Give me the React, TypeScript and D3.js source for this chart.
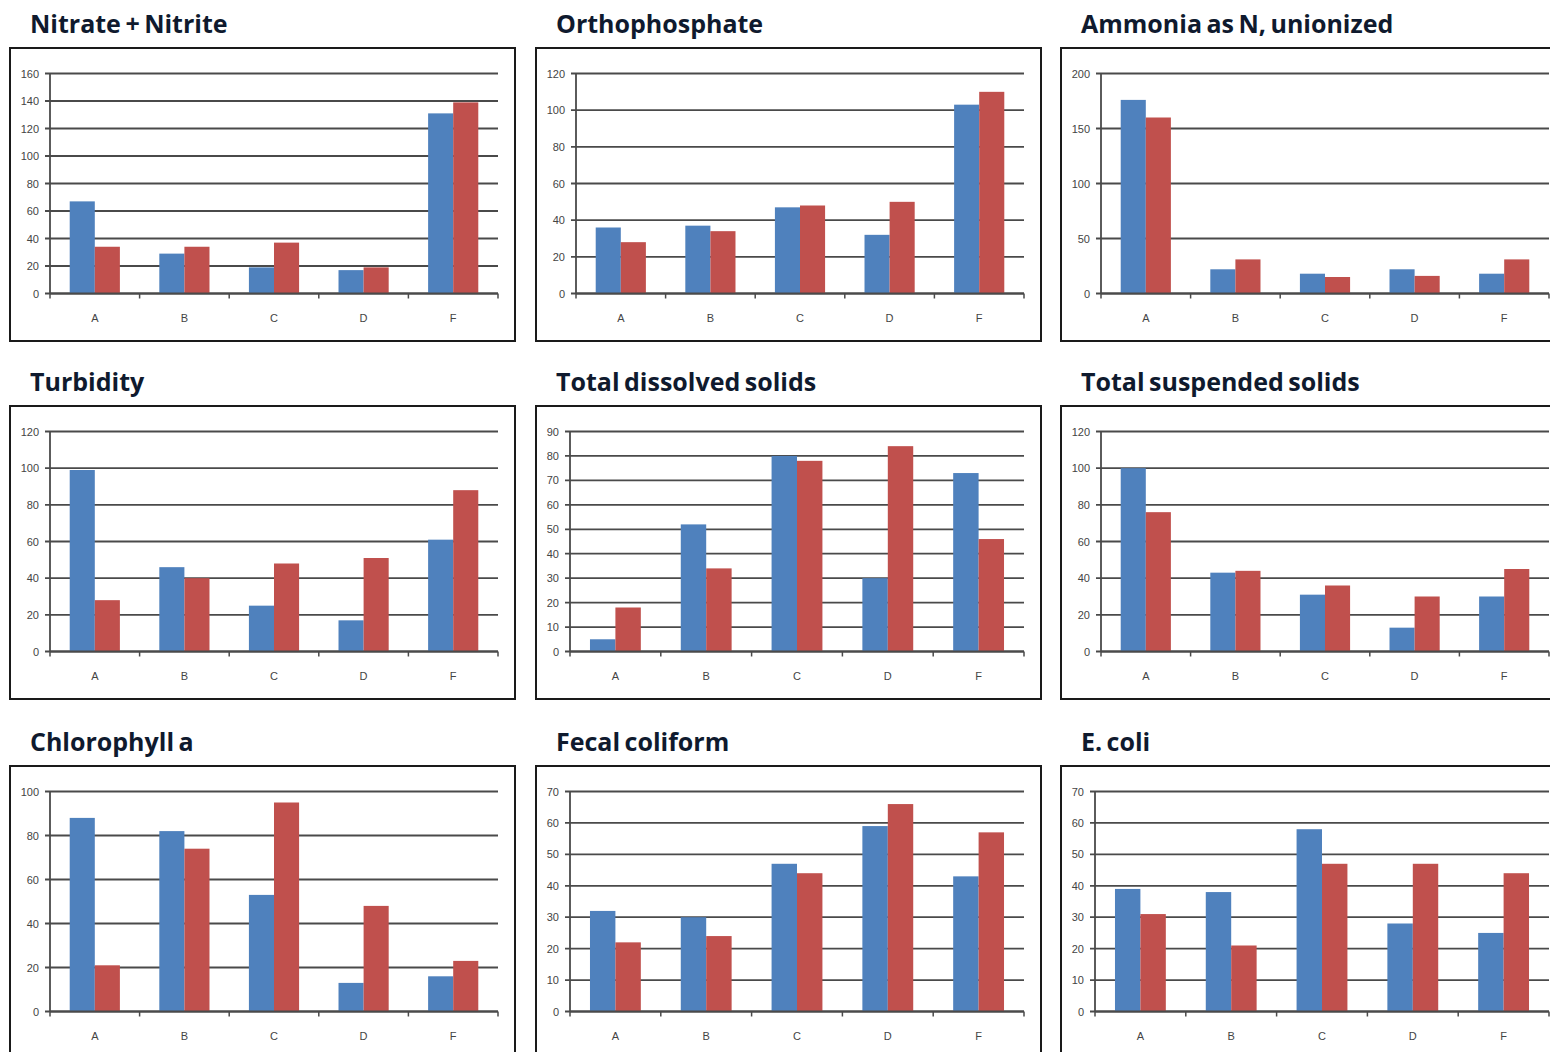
import React from 'react';
import * as d3 from 'd3';

const categories = ['A', 'B', 'C', 'D', 'F'];

const titles = [
  'Nitrate + Nitrite',
  'Orthophosphate',
  'Ammonia as N, unionized',
  'Turbidity',
  'Total dissolved solids',
  'Total suspended solids',
  'Chlorophyll a',
  'Fecal coliform',
  'E. coli',
];

const nitrateBlue = [67, 29, 19, 17, 131];
const nitrateRed = [34, 34, 37, 19, 139];
const orthoBlue = [36, 37, 47, 32, 103];
const orthoRed = [28, 34, 48, 50, 110];
const ammoniaBlue = [176, 22, 18, 22, 18];
const ammoniaRed = [160, 31, 15, 16, 31];
const turbidityBlue = [99, 46, 25, 17, 61];
const turbidityRed = [28, 40, 48, 51, 88];
const tdsBlue = [5, 52, 80, 30, 73];
const tdsRed = [18, 34, 78, 84, 46];
const tssBlue = [100, 43, 31, 13, 30];
const tssRed = [76, 44, 36, 30, 45];
const chlBlue = [88, 82, 53, 13, 16];
const chlRed = [21, 74, 95, 48, 23];
const fecalBlue = [32, 30, 47, 59, 43];
const fecalRed = [22, 24, 44, 66, 57];
const ecoliBlue = [39, 38, 58, 28, 25];
const ecoliRed = [31, 21, 47, 47, 44];

const yMaxes = [160, 120, 200, 120, 90, 120, 100, 70, 70];
const ySteps = [20, 20, 50, 20, 10, 20, 20, 10, 10];

const blueSeries = [nitrateBlue, orthoBlue, ammoniaBlue, turbidityBlue, tdsBlue, tssBlue, chlBlue, fecalBlue, ecoliBlue];
const redSeries = [nitrateRed, orthoRed, ammoniaRed, turbidityRed, tdsRed, tssRed, chlRed, fecalRed, ecoliRed];

const BLUE = '#4F81BD';
const RED = '#C0504D';
const GRID = '#4a4a4a';

const colLefts = [10, 536, 1061];
const rowTops = [48, 406, 766];
const BOX_W = 505;
const BOX_H = 293;

function Panel({ idx }: { idx: number }) {
  const col = idx % 3;
  const row = Math.floor(idx / 3);
  const bx = colLefts[col];
  const by = rowTops[row];
  const max = yMaxes[idx];
  const step = ySteps[idx];
  const ticks = d3.range(0, max + step / 2, step);
  const digits = String(max).length;
  const left = bx + 22 + 6 * digits;
  const right = bx + 488;
  const top = by + 25.5;
  const bottom = by + 245.5;
  const y = d3.scaleLinear().domain([0, max]).range([bottom, top]);
  const x = d3.scaleBand<string>().domain(categories).range([left, right]).padding(0);
  const bw = x.bandwidth() * 0.28;
  const blue = blueSeries[idx];
  const red = redSeries[idx];
  const bounds = d3.range(0, categories.length + 1).map((i) => left + i * x.bandwidth());
  return (
    <g>
      <text
        x={bx + 20}
        y={by - 15}
        fontFamily="'Open Sans', Lato, sans-serif"
        fontWeight={700}
        fontSize={25}
        wordSpacing={-2}
        fill="#0f1a2e"
      >
        {titles[idx]}
      </text>
      <rect x={bx} y={by} width={BOX_W} height={BOX_H} fill="#fff" stroke="#1a1a1a" strokeWidth={2} />
      {ticks.map((t) => (
        <g key={t}>
          <line x1={left - 5} x2={right} y1={y(t)} y2={y(t)} stroke={GRID} strokeWidth={1.8} />
          <text
            x={left - 11}
            y={y(t) + 4}
            textAnchor="end"
            fontFamily="'Liberation Sans', Arial, sans-serif"
            fontSize={11}
            fill="#444"
          >
            {t}
          </text>
        </g>
      ))}
      {categories.map((c, i) => {
        const cx = (x(c) as number) + x.bandwidth() / 2;
        return (
          <g key={c}>
            <rect x={cx - bw} y={y(blue[i])} width={bw} height={bottom - y(blue[i])} fill={BLUE} />
            <rect x={cx} y={y(red[i])} width={bw} height={bottom - y(red[i])} fill={RED} />
            <text
              x={cx}
              y={bottom + 28}
              textAnchor="middle"
              fontFamily="'Liberation Sans', Arial, sans-serif"
              fontSize={11}
              fill="#444"
            >
              {c}
            </text>
          </g>
        );
      })}
      <line x1={left} x2={left} y1={top} y2={bottom} stroke={GRID} strokeWidth={1.8} />
      <line x1={left} x2={right} y1={bottom} y2={bottom} stroke={GRID} strokeWidth={1.8} />
      {bounds.map((b, i) => (
        <line key={i} x1={b} x2={b} y1={bottom} y2={bottom + 5} stroke={GRID} strokeWidth={1.5} />
      ))}
    </g>
  );
}

export default function App() {
  return (
    <svg
      width={1550}
      height={1052}
      style={{ position: 'absolute', left: 0, top: 0, background: '#fff', overflow: 'hidden' }}
    >
      <rect x={0} y={0} width={1550} height={1052} fill="#fff" />
      {titles.map((_, i) => (
        <Panel key={i} idx={i} />
      ))}
    </svg>
  );
}
